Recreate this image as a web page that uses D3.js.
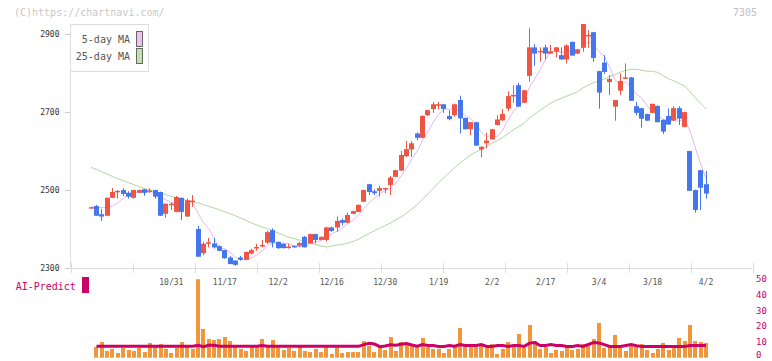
<!DOCTYPE html>
<html><head><meta charset="utf-8">
<script src="https://cdn.jsdelivr.net/npm/d3@7"></script>
<style>body{margin:0;background:#fff;}svg{display:block;}text{font-family:"DejaVu Sans Mono",monospace;}</style>
</head><body><svg id="c" width="772" height="361"></svg>
<script>
const dates = ["10/9","10/10","10/14","10/15","10/16","10/17","10/20","10/21","10/22","10/23","10/24","10/27","10/28","10/29","10/30",
"10/31","11/4","11/5","11/6","11/7","11/10","11/11","11/12","11/13","11/14","11/17",
"11/18","11/19","11/20","11/21","11/25","11/26","11/27","11/28","12/1","12/2",
"12/3","12/4","12/5","12/8","12/9","12/10","12/11","12/12","12/15","12/16",
"12/17","12/18","12/19","12/22","12/23","12/24","12/25","12/26","12/29","12/30",
"1/5","1/6","1/7","1/8","1/9","1/13","1/14","1/15","1/16","1/19",
"1/20","1/21","1/22","1/23","1/26","1/27","1/28","1/29","1/30","2/2",
"2/3","2/4","2/5","2/6","2/9","2/10","2/12","2/13","2/16","2/17",
"2/18","2/19","2/20","2/24","2/25","2/26","2/27","3/2","3/3","3/4",
"3/5","3/6","3/9","3/10","3/11","3/12","3/13","3/16","3/17","3/18",
"3/19","3/23","3/24","3/25","3/26","3/27","3/30","3/31","4/1","4/2"];

const open = [2456,2459,2438,2434,2480,2496,2500,2493,2480,2493,
2502,2497,2500,2495,2439,2464,2444,2480,2432,2471,
2400,2338,2364,2363,2356,2346,2327,2319,2327,2321,
2337,2352,2357,2365,2397,2367,2362,2354,2357,2357,
2380,2363,2387,2372,2372,2404,2404,2423,2416,2439,
2444,2470,2515,2497,2498,2504,2513,2534,2550,2587,
2604,2645,2634,2692,2708,2719,2720,2690,2692,2731,
2685,2656,2674,2604,2620,2630,2667,2679,2709,2742,
2769,2724,2793,2866,2855,2866,2850,2855,2846,2835,
2880,2850,2865,2896,2905,2805,2827,2777,2714,2755,
2787,2789,2715,2710,2695,2698,2716,2680,2690,2678,
2710,2662,2600,2500,2551,2515];
const high = [2456,2462,2451,2481,2505,2500,2505,2497,2501,2501,
2503,2505,2501,2496,2465,2469,2485,2481,2478,2487,
2408,2367,2377,2377,2358,2347,2331,2320,2331,2342,
2349,2362,2372,2396,2402,2368,2363,2362,2358,2367,
2382,2388,2388,2381,2406,2406,2432,2427,2442,2447,
2463,2501,2516,2502,2511,2506,2536,2552,2600,2626,
2626,2648,2692,2706,2726,2726,2721,2705,2722,2742,
2686,2675,2675,2612,2647,2657,2692,2708,2753,2769,
2775,2757,2915,2874,2866,2873,2872,2867,2866,2874,
2881,2862,2926,2910,2906,2806,2846,2795,2731,2799,
2825,2790,2726,2711,2696,2722,2717,2681,2709,2715,
2715,2701,2601,2501,2552,2549];
const low = [2456,2434,2421,2433,2480,2478,2485,2478,2478,2492,
2485,2493,2478,2434,2429,2449,2443,2423,2431,2457,
2329,2333,2353,2350,2343,2324,2310,2306,2319,2320,
2335,2344,2353,2362,2353,2349,2350,2350,2352,2353,
2353,2362,2363,2371,2368,2393,2393,2409,2415,2438,
2443,2469,2487,2487,2483,2492,2487,2533,2549,2585,
2585,2628,2633,2690,2698,2707,2698,2679,2688,2645,
2655,2641,2614,2584,2607,2629,2666,2677,2703,2724,
2714,2723,2778,2819,2829,2835,2849,2840,2835,2825,
2845,2849,2855,2865,2829,2709,2798,2744,2678,2744,
2786,2729,2692,2660,2677,2697,2674,2644,2668,2677,
2667,2661,2498,2442,2449,2478];
const close = [2456,2434,2432,2480,2495,2498,2490,2483,2500,2500,
2493,2499,2483,2434,2465,2465,2482,2444,2474,2473,
2329,2362,2366,2353,2344,2325,2310,2308,2321,2341,
2346,2354,2359,2392,2365,2351,2351,2355,2353,2364,
2353,2387,2372,2380,2404,2395,2421,2416,2436,2446,
2462,2500,2495,2492,2505,2505,2532,2551,2590,2605,
2620,2634,2690,2705,2720,2720,2708,2682,2720,2684,
2656,2674,2614,2611,2627,2656,2681,2695,2741,2744,
2714,2756,2866,2850,2857,2850,2856,2866,2835,2871,
2845,2861,2926,2898,2839,2750,2803,2785,2731,2780,
2789,2729,2698,2683,2678,2721,2674,2650,2668,2710,
2683,2700,2498,2449,2506,2491];

// MA values before enough history is visible
const ma5Head = [2457,2456,2455,2456];
const ma25Head = [2558,2553,2547,2541,2535,2529,2524,2519,2514,2509,2504,2500,2496,2492,2488,2484,2480,2477,2473,2469,2467,2463,2458,2454];

const volume = [0,6.8,10.0,4.3,5.6,3.0,6.2,4.9,4.3,6.2,
3.6,9.4,6.8,8.7,5.6,3.0,6.2,10.0,6.8,5.6,
50,18.3,11.9,11.3,11.9,13.2,10.6,6.8,5.6,4.3,
6.8,6.8,11.9,6.8,11.3,6.8,4.9,6.2,4.3,6.8,
4.3,3.6,5.6,3.6,6.8,2.4,6.8,3.0,3.6,3.6,
3.6,10.6,7.5,3.6,6.8,4.9,13.2,4.3,10.0,8.7,
8.1,6.8,12.6,6.8,5.6,5.6,3.0,5.6,6.8,18.9,
8.1,8.1,8.1,8.7,6.2,8.7,2.4,5.6,10.0,6.8,
15.1,6.2,20.8,10.6,5.6,6.8,3.0,4.9,4.3,6.8,
4.9,5.6,8.7,8.7,11.9,22.1,6.2,6.8,14.5,6.8,
4.3,8.1,6.8,8.7,4.9,3.0,5.6,9.4,4.9,6.8,
12.6,10.6,20.8,10.6,10.0,9.4];

const aiPredict = [null,7.25,7.25,7.25,7.25,7.25,7.25,7.25,7.25,7.25,
7.25,7.25,7.25,7.25,7.25,7.25,7.25,7.25,7.25,7.25,
7.9,7.0,7.9,7.9,7.25,7.25,7.25,7.25,7.25,7.25,
7.25,7.25,7.7,7.25,7.25,7.25,7.25,7.25,7.25,7.25,
7.25,7.25,7.25,7.25,7.25,7.25,7.25,7.25,7.25,7.25,
7.25,8.3,9.2,8.7,7.0,7.5,8.3,7.9,8.5,9.0,
8.1,7.3,8.4,7.8,7.7,7.2,7.2,7.8,7.3,8.4,
7.8,7.8,7.8,8.4,7.2,7.2,7.8,7.8,7.2,7.8,
7.8,7.2,9.3,9.6,7.8,7.8,8.4,7.8,7.8,7.2,
7.2,7.8,7.2,8.4,9.7,9.3,8.3,7.2,7.2,7.2,
7.8,8.4,7.6,7.2,7.2,7.2,7.2,7.2,7.2,7.2,
7.2,7.2,7.8,7.8,7.8,7.8];

const priceTicks = [2300,2500,2700,2900];
const dateTicks = ["10/31","11/17","12/2","12/16","12/30","1/19","2/2","2/17","3/4","3/18","4/2"];
const volTicks = [0,10,20,30,40,50];
const legendItems = [{label:"5-day MA", color:"#f0c0f0"},{label:"25-day MA", color:"#c0e0b0"}];

function movingAvg(vals, n, head){
  return vals.map((v,i)=> i < n-1 ? head[i] : d3.mean(vals.slice(i-n+1, i+1)));
}
const ma5 = movingAvg(close, 5, ma5Head);
const ma25 = movingAvg(close, 25, ma25Head);

const svg = d3.select("#c");
const x = d3.scalePoint().domain(dates).range([91.1, 706]);
const y = d3.scaleLinear().domain([2300, 2926]).range([268, 24]);
const yv = d3.scaleLinear().domain([0, 50]).range([357.7, 279.2]);
const grid = d3.scaleLinear().domain([0, 11]).range([70.5, 752.5]);
const UP = "#ee5544", DOWN = "#4477ee", AXIS = "#dddddd";

// header
svg.append("text").attr("x",14).attr("y",16).attr("font-size",10).attr("fill","#c8c8c8").text("(C)https://chartnavi.com/");
svg.append("text").attr("x",757).attr("y",16).attr("font-size",10).attr("fill","#c0c0c0").attr("text-anchor","end").text("7305");

// axes
svg.append("line").attr("x1",70.5).attr("x2",70.5).attr("y1",24).attr("y2",268.5).attr("stroke",AXIS);
svg.append("line").attr("x1",70.5).attr("x2",752.5).attr("y1",268.5).attr("y2",268.5).attr("stroke",AXIS);
svg.append("g").selectAll("line").data(grid.ticks(11)).join("line")
  .attr("x1",d=>Math.round(grid(d))+0.5).attr("x2",d=>Math.round(grid(d))+0.5)
  .attr("y1",263).attr("y2",273).attr("stroke",AXIS);
const yt = svg.append("g").selectAll("g").data(priceTicks).join("g");
yt.append("line").attr("x1",65).attr("x2",70).attr("y1",d=>Math.round(y(d))+0.5).attr("y2",d=>Math.round(y(d))+0.5).attr("stroke","#cccccc");
yt.append("text").attr("x",59.5).attr("y",d=>y(d)+2.8).attr("text-anchor","end").attr("font-size",8).attr("fill","#333").text(d=>d);

// moving averages
const idx = d3.range(dates.length);
const lineGen = arr => d3.line().x(i=>x(dates[i])).y(i=>y(arr[i]));
svg.append("path").attr("d",lineGen(ma25)(idx)).attr("fill","none").attr("stroke","#b0d8a0").attr("stroke-width",1);
svg.append("path").attr("d",lineGen(ma5)(idx)).attr("fill","none").attr("stroke","#e8b8f0").attr("stroke-width",1);

// candles
const cg = svg.append("g").selectAll("g").data(idx).join("g");
const cx = i => Math.round(x(dates[i]) - 2.5);
cg.append("rect").attr("x",i=>cx(i)+2).attr("width",1)
  .attr("y",i=>y(high[i])).attr("height",i=>Math.max(1,y(low[i])-y(high[i])))
  .attr("fill",i=>close[i]>=open[i]?UP:DOWN);
cg.append("rect").attr("x",i=>cx(i)).attr("width",5)
  .attr("y",i=>y(Math.max(open[i],close[i])))
  .attr("height",i=>Math.max(1.5,Math.abs(y(open[i])-y(close[i]))))
  .attr("fill",i=>close[i]>=open[i]?UP:DOWN);

// legend
svg.append("rect").attr("x",70.5).attr("y",24.5).attr("width",78).attr("height",47).attr("fill","#fff").attr("stroke",AXIS);
const lg = svg.append("g").selectAll("g").data(legendItems).join("g");
lg.append("text").attr("x",130).attr("y",(d,i)=>43+i*16.5).attr("text-anchor","end").attr("font-size",10).attr("fill","#555").text(d=>d.label);
lg.append("rect").attr("x",136.5).attr("y",(d,i)=>31.5+i*17).attr("width",6).attr("height",15).attr("fill",d=>d.color).attr("stroke","#666");

// date labels
svg.append("g").selectAll("text").data(dateTicks).join("text")
  .attr("x",d=>x(d)).attr("y",285).attr("text-anchor","middle").attr("font-size",8).attr("fill","#555").text(d=>d);

// volume
svg.append("g").selectAll("rect").data(idx.filter(i=>volume[i]>0)).join("rect")
  .attr("x",i=>Math.round(x(dates[i])-2)).attr("width",4)
  .attr("y",i=>yv(volume[i])).attr("height",i=>yv(0)-yv(volume[i]))
  .attr("fill","#f0963c");
svg.append("path").attr("d",d3.line().defined(i=>aiPredict[i]!=null).x(i=>x(dates[i])).y(i=>yv(aiPredict[i]))(idx))
  .attr("fill","none").attr("stroke","#cc0066").attr("stroke-width",3);
svg.append("text").attr("x",15.7).attr("y",290).attr("font-size",10).attr("fill","#cc0066").text("AI-Predict");
svg.append("rect").attr("x",82).attr("y",277).attr("width",7).attr("height",16).attr("fill","#cc0066");
svg.append("g").selectAll("text").data(volTicks).join("text")
  .attr("x",756).attr("y",d=>Math.min(yv(d)+3, 358)).attr("font-size",9).attr("fill","#cc0066").text(d=>d);
</script></body></html>
